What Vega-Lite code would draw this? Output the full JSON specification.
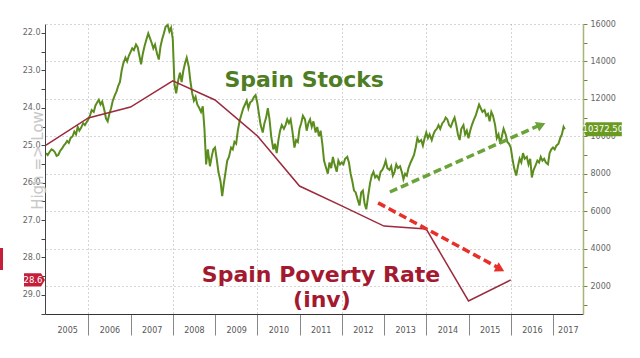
{
"$schema": "https://vega.github.io/schema/vega-lite/v6.json",
"width": 538, "height": 290,
"autosize": {"type": "none"},
"padding": {"left": 45, "top": 24, "right": 57, "bottom": 44},
"background": "white",
"config": {"view": {"stroke": null}, "axis": {"labelFont": "DejaVu Sans", "titleFont": "DejaVu Sans"}},
"datasets": {
"stocks": [
{"d":2005.00,"v":9100},{"d":2005.04,"v":9000},{"d":2005.08,"v":9150},{"d":2005.13,"v":9300},{"d":2005.17,"v":9250},{"d":2005.21,"v":9150},{"d":2005.25,"v":8950},{"d":2005.29,"v":9000},{"d":2005.33,"v":9200},{"d":2005.38,"v":9350},{"d":2005.42,"v":9500},{"d":2005.46,"v":9600},{"d":2005.50,"v":9750},{"d":2005.54,"v":9650},{"d":2005.58,"v":9900},{"d":2005.63,"v":10000},{"d":2005.67,"v":10250},{"d":2005.71,"v":10100},{"d":2005.75,"v":10500},{"d":2005.79,"v":10300},{"d":2005.83,"v":10450},{"d":2005.88,"v":10700},{"d":2005.92,"v":10600},{"d":2005.96,"v":10750},
{"d":2006.00,"v":10900},{"d":2006.04,"v":11100},{"d":2006.08,"v":11400},{"d":2006.13,"v":11300},{"d":2006.17,"v":11650},{"d":2006.21,"v":11800},{"d":2006.25,"v":11950},{"d":2006.29,"v":11700},{"d":2006.33,"v":11850},{"d":2006.38,"v":11400},{"d":2006.42,"v":10950},{"d":2006.46,"v":10800},{"d":2006.50,"v":11200},{"d":2006.54,"v":11500},{"d":2006.58,"v":11900},{"d":2006.63,"v":12200},{"d":2006.67,"v":12400},{"d":2006.71,"v":12700},{"d":2006.75,"v":12900},{"d":2006.79,"v":13500},{"d":2006.83,"v":13900},{"d":2006.88,"v":14200},{"d":2006.92,"v":14000},{"d":2006.96,"v":14300},
{"d":2007.00,"v":14500},{"d":2007.04,"v":14700},{"d":2007.08,"v":14600},{"d":2007.13,"v":14900},{"d":2007.17,"v":14750},{"d":2007.21,"v":14300},{"d":2007.25,"v":13850},{"d":2007.29,"v":14400},{"d":2007.33,"v":14800},{"d":2007.38,"v":15200},{"d":2007.42,"v":15500},{"d":2007.46,"v":15250},{"d":2007.50,"v":15000},{"d":2007.54,"v":14700},{"d":2007.58,"v":14900},{"d":2007.63,"v":14400},{"d":2007.67,"v":14100},{"d":2007.71,"v":14800},{"d":2007.75,"v":15200},{"d":2007.79,"v":15500},{"d":2007.83,"v":15850},{"d":2007.88,"v":15950},{"d":2007.92,"v":15600},{"d":2007.96,"v":15800},
{"d":2008.00,"v":15200},{"d":2008.04,"v":12800},{"d":2008.08,"v":12300},{"d":2008.13,"v":13000},{"d":2008.17,"v":13400},{"d":2008.21,"v":12900},{"d":2008.25,"v":13500},{"d":2008.29,"v":13900},{"d":2008.33,"v":14200},{"d":2008.38,"v":13700},{"d":2008.42,"v":12900},{"d":2008.46,"v":12300},{"d":2008.50,"v":11900},{"d":2008.54,"v":12100},{"d":2008.58,"v":11700},{"d":2008.63,"v":11500},{"d":2008.67,"v":11300},{"d":2008.71,"v":11600},{"d":2008.75,"v":10400},{"d":2008.79,"v":8500},{"d":2008.83,"v":9300},{"d":2008.88,"v":8400},{"d":2008.92,"v":8900},{"d":2008.96,"v":9300},
{"d":2009.00,"v":9400},{"d":2009.04,"v":8800},{"d":2009.08,"v":8100},{"d":2009.13,"v":7600},{"d":2009.17,"v":6800},{"d":2009.21,"v":7500},{"d":2009.25,"v":8100},{"d":2009.29,"v":8700},{"d":2009.33,"v":8900},{"d":2009.38,"v":9400},{"d":2009.42,"v":9300},{"d":2009.46,"v":9700},{"d":2009.50,"v":9600},{"d":2009.54,"v":10300},{"d":2009.58,"v":10800},{"d":2009.63,"v":11200},{"d":2009.67,"v":11500},{"d":2009.71,"v":11700},{"d":2009.75,"v":11900},{"d":2009.79,"v":11500},{"d":2009.83,"v":11800},{"d":2009.88,"v":11900},{"d":2009.92,"v":12100},{"d":2009.96,"v":12200},
{"d":2010.00,"v":11800},{"d":2010.04,"v":11200},{"d":2010.08,"v":10600},{"d":2010.13,"v":10200},{"d":2010.17,"v":10700},{"d":2010.21,"v":11000},{"d":2010.25,"v":11500},{"d":2010.29,"v":10900},{"d":2010.33,"v":10000},{"d":2010.38,"v":9300},{"d":2010.42,"v":9600},{"d":2010.46,"v":9100},{"d":2010.50,"v":9800},{"d":2010.54,"v":10300},{"d":2010.58,"v":10600},{"d":2010.63,"v":10400},{"d":2010.67,"v":10600},{"d":2010.71,"v":10900},{"d":2010.75,"v":10700},{"d":2010.79,"v":10900},{"d":2010.83,"v":10300},{"d":2010.88,"v":9400},{"d":2010.92,"v":9800},{"d":2010.96,"v":9700},
{"d":2011.00,"v":10400},{"d":2011.04,"v":10700},{"d":2011.08,"v":11100},{"d":2011.13,"v":10900},{"d":2011.17,"v":10300},{"d":2011.21,"v":10700},{"d":2011.25,"v":10900},{"d":2011.29,"v":10500},{"d":2011.33,"v":10800},{"d":2011.38,"v":10200},{"d":2011.42,"v":10500},{"d":2011.46,"v":10000},{"d":2011.50,"v":10300},{"d":2011.54,"v":9600},{"d":2011.58,"v":8700},{"d":2011.63,"v":8300},{"d":2011.67,"v":8000},{"d":2011.71,"v":8600},{"d":2011.75,"v":8300},{"d":2011.79,"v":8900},{"d":2011.83,"v":8500},{"d":2011.88,"v":8100},{"d":2011.92,"v":8700},{"d":2011.96,"v":8500},
{"d":2012.00,"v":8600},{"d":2012.04,"v":8500},{"d":2012.08,"v":8800},{"d":2012.13,"v":8900},{"d":2012.17,"v":8600},{"d":2012.21,"v":8000},{"d":2012.25,"v":7600},{"d":2012.29,"v":7100},{"d":2012.33,"v":7000},{"d":2012.38,"v":6600},{"d":2012.42,"v":6300},{"d":2012.46,"v":7000},{"d":2012.50,"v":7100},{"d":2012.54,"v":6400},{"d":2012.58,"v":6100},{"d":2012.63,"v":6900},{"d":2012.67,"v":7500},{"d":2012.71,"v":7900},{"d":2012.75,"v":8100},{"d":2012.79,"v":7800},{"d":2012.83,"v":7900},{"d":2012.88,"v":7700},{"d":2012.92,"v":8100},{"d":2012.96,"v":8200},
{"d":2013.00,"v":8400},{"d":2013.04,"v":8700},{"d":2013.08,"v":8300},{"d":2013.13,"v":8200},{"d":2013.17,"v":8400},{"d":2013.21,"v":7900},{"d":2013.25,"v":8100},{"d":2013.29,"v":8500},{"d":2013.33,"v":8300},{"d":2013.38,"v":8400},{"d":2013.42,"v":8100},{"d":2013.46,"v":7700},{"d":2013.50,"v":8000},{"d":2013.54,"v":7900},{"d":2013.58,"v":8300},{"d":2013.63,"v":8600},{"d":2013.67,"v":8800},{"d":2013.71,"v":9000},{"d":2013.75,"v":9400},{"d":2013.79,"v":9900},{"d":2013.83,"v":9700},{"d":2013.88,"v":9800},{"d":2013.92,"v":9500},{"d":2013.96,"v":9900},
{"d":2014.00,"v":10200},{"d":2014.04,"v":9900},{"d":2014.08,"v":10100},{"d":2014.13,"v":9800},{"d":2014.17,"v":10100},{"d":2014.21,"v":10300},{"d":2014.25,"v":10400},{"d":2014.29,"v":10600},{"d":2014.33,"v":10400},{"d":2014.38,"v":10700},{"d":2014.42,"v":10800},{"d":2014.46,"v":11000},{"d":2014.50,"v":10900},{"d":2014.54,"v":10600},{"d":2014.58,"v":10500},{"d":2014.63,"v":10800},{"d":2014.67,"v":11000},{"d":2014.71,"v":10600},{"d":2014.75,"v":10100},{"d":2014.79,"v":9800},{"d":2014.83,"v":10400},{"d":2014.88,"v":10600},{"d":2014.92,"v":10100},{"d":2014.96,"v":10300},
{"d":2015.00,"v":9900},{"d":2015.04,"v":10300},{"d":2015.08,"v":10600},{"d":2015.13,"v":10900},{"d":2015.17,"v":11100},{"d":2015.21,"v":11400},{"d":2015.25,"v":11700},{"d":2015.29,"v":11500},{"d":2015.33,"v":11300},{"d":2015.38,"v":11400},{"d":2015.42,"v":11100},{"d":2015.46,"v":11200},{"d":2015.50,"v":10800},{"d":2015.54,"v":11300},{"d":2015.58,"v":11100},{"d":2015.63,"v":10600},{"d":2015.67,"v":9900},{"d":2015.71,"v":10100},{"d":2015.75,"v":9600},{"d":2015.79,"v":10000},{"d":2015.83,"v":10400},{"d":2015.88,"v":10100},{"d":2015.92,"v":9700},{"d":2015.96,"v":9600},
{"d":2016.00,"v":9400},{"d":2016.04,"v":8800},{"d":2016.08,"v":8300},{"d":2016.13,"v":7900},{"d":2016.17,"v":8400},{"d":2016.21,"v":8800},{"d":2016.25,"v":8600},{"d":2016.29,"v":9100},{"d":2016.33,"v":8800},{"d":2016.38,"v":8900},{"d":2016.42,"v":8500},{"d":2016.46,"v":8800},{"d":2016.50,"v":7800},{"d":2016.54,"v":8200},{"d":2016.58,"v":8400},{"d":2016.63,"v":8700},{"d":2016.67,"v":8600},{"d":2016.71,"v":8900},{"d":2016.75,"v":8700},{"d":2016.79,"v":8800},{"d":2016.83,"v":8600},{"d":2016.88,"v":8500},{"d":2016.92,"v":9100},{"d":2016.96,"v":9300},
{"d":2017.00,"v":9400},{"d":2017.04,"v":9300},{"d":2017.08,"v":9500},{"d":2017.13,"v":9600},{"d":2017.17,"v":9900},{"d":2017.21,"v":10100},{"d":2017.25,"v":10500},{"d":2017.28,"v":10372.5}
],
"pov": [
{"d":2005,"v":25.0},{"d":2006,"v":24.27},{"d":2007,"v":23.98},{"d":2008,"v":23.28},{"d":2009,"v":23.79},{"d":2010,"v":24.75},{"d":2011,"v":26.09},{"d":2012,"v":26.62},{"d":2013,"v":27.16},{"d":2014,"v":27.24},{"d":2015,"v":29.16},{"d":2016,"v":28.6}
]
},
"layer": [
{
"encoding": {
"x": {"field": "d", "type": "quantitative", "scale": {"domain": [2004.976, 2017.71], "nice": false, "zero": false},
"axis": {"orient": "bottom", "values": [2006,2007,2008,2009,2010,2011,2012,2013,2014,2015,2016,2017], "labels": false, "tickSize": 21, "tickColor": "#888", "grid": true, "gridDash": [1,3], "gridColor": "#aaa", "gridOpacity": {"condition": {"test": "datum.value % 2 == 0", "value": 1}, "value": 0}, "domainColor": "#333", "title": null}},
"y": {"field": "v", "type": "quantitative", "scale": {"domain": [504, 16000], "nice": false, "zero": false},
"axis": {"orient": "right", "values": [1000,2000,3000,4000,5000,6000,7000,8000,9000,10000,11000,12000,13000,14000,15000,16000], "labelExpr": "datum.value % 2000 == 0 ? '' + datum.value : ''", "tickSize": 4, "tickColor": "#6a8a3a", "grid": true, "gridDash": [1,3], "gridColor": "#aaa", "gridOpacity": {"condition": {"test": "datum.value % 2000 == 0", "value": 1}, "value": 0}, "domainColor": "#a7b57a", "domainWidth": 1.5, "labelColor": "#666", "labelFontSize": 8, "labelPadding": 3, "title": null}}
},
"layer": [
{"data": {"name": "stocks"}, "mark": {"type": "line", "color": "#5b8c1e", "strokeWidth": 2}},
{"data": {"values": [{"d": 2013.14, "v": 7024, "d2": 2016.64, "v2": 10550}]}, "mark": {"type": "rule", "color": "#6aa338", "strokeWidth": 3.5, "strokeDash": [8,4]}, "encoding": {"x2": {"field": "d2"}, "y2": {"field": "v2"}}},
{"data": {"values": [{"d": 2016.72, "v": 10604}]}, "mark": {"type": "point", "shape": "triangle-right", "filled": true, "size": 110, "angle": -24, "color": "#6aa338", "opacity": 1}},
{"data": {"values": [{"d": 2011.11, "v": 12634, "t": "Spain Stocks"}]}, "mark": {"type": "text", "font": "DejaVu Sans", "fontWeight": "bold", "fontSize": 22, "color": "#4e7d23", "baseline": "alphabetic", "align": "center"}, "encoding": {"text": {"field": "t"}}},
{"data": {"values": [{"d": 2017.28, "v": 10372.5}]}, "mark": {"type": "point", "shape": "M 0.9 0 L 1.05 -0.35 L 2.85 -0.35 L 2.85 0.35 L 1.05 0.35 Z", "filled": true, "size": 1600, "color": "#6b9a22", "opacity": 1}},
{"data": {"values": [{"d": 2017.28, "v": 10372.5, "t": "10372.50"}]}, "mark": {"type": "text", "dx": 38, "fontSize": 8.5, "font": "DejaVu Sans", "color": "white", "align": "center", "baseline": "middle"}, "encoding": {"text": {"field": "t"}}}
]
},
{
"encoding": {
"x": {"field": "d", "type": "quantitative", "scale": {"domain": [2004.976, 2017.71], "nice": false, "zero": false},
"axis": {"orient": "bottom", "values": [2005.5,2006.5,2007.5,2008.5,2009.5,2010.5,2011.5,2012.5,2013.5,2014.5,2015.5,2016.5,2017.35], "labelExpr": "'' + floor(datum.value)", "ticks": false, "domain": false, "grid": false, "labelPadding": 12, "labelFontSize": 8, "labelColor": "#555", "labelOverlap": false, "labelFlush": false, "labelBound": false, "title": null}},
"y": {"field": "v", "type": "quantitative", "scale": {"domain": [21.76, 29.51], "reverse": true, "nice": false, "zero": false},
"axis": {"orient": "left", "values": [22,22.5,23,23.5,24,24.5,25,25.5,26,26.5,27,27.5,28,28.5,29,29.5], "labelExpr": "datum.value % 1 == 0 ? format(datum.value, '.1f') : ''", "tickSize": 4, "tickColor": "#444", "grid": false, "domainColor": "#444", "labelColor": "#666", "labelFontSize": 8, "labelPadding": 1, "title": "High => Low", "titleColor": "#c8c8c8", "titleFontSize": 15, "titleFontWeight": "normal", "titleX": -8, "titleY": 136, "titleAngle": -90, "titleAlign": "center", "titleBaseline": "middle"}}
},
"layer": [
{"data": {"name": "pov"}, "mark": {"type": "line", "color": "#9c2a3c", "strokeWidth": 1.5}},
{"data": {"values": [{"d": 2012.86, "v": 26.54, "d2": 2015.67, "v2": 28.25}]}, "mark": {"type": "rule", "color": "#e8302a", "strokeWidth": 3.5, "strokeDash": [8,4]}, "encoding": {"x2": {"field": "d2"}, "y2": {"field": "v2"}}},
{"data": {"values": [{"d": 2015.75, "v": 28.31}]}, "mark": {"type": "point", "shape": "triangle-right", "filled": true, "size": 110, "angle": 28, "color": "#e8302a", "opacity": 1}},
{"data": {"values": [{"d": 2011.51, "v": 28.65, "t": "Spain Poverty Rate"}, {"d": 2011.53, "v": 29.33, "t": "(inv)"}]}, "mark": {"type": "text", "font": "DejaVu Sans", "fontWeight": "bold", "fontSize": 22, "color": "#a3192f", "baseline": "alphabetic", "align": "center"}, "encoding": {"text": {"field": "t"}}},
{"data": {"values": [{"d": 2005.0, "v": 28.6}]}, "mark": {"type": "point", "shape": "M -0.05 0 L -0.25 -0.33 L -1.1 -0.33 L -1.1 0.33 L -0.25 0.33 Z M -2.3 -1.6 L -2.15 -1.6 L -2.15 -0.5 L -2.3 -0.5 Z", "filled": true, "size": 1600, "color": "#c41e3a", "opacity": 1}},
{"data": {"values": [{"d": 2005.0, "v": 28.6, "t": "28.6"}]}, "mark": {"type": "text", "dx": -13, "fontSize": 8.5, "font": "DejaVu Sans", "color": "white", "align": "center", "baseline": "middle"}, "encoding": {"text": {"field": "t"}}}
]
}
],
"resolve": {"scale": {"y": "independent"}, "axis": {"x": "independent", "y": "independent"}}
}
